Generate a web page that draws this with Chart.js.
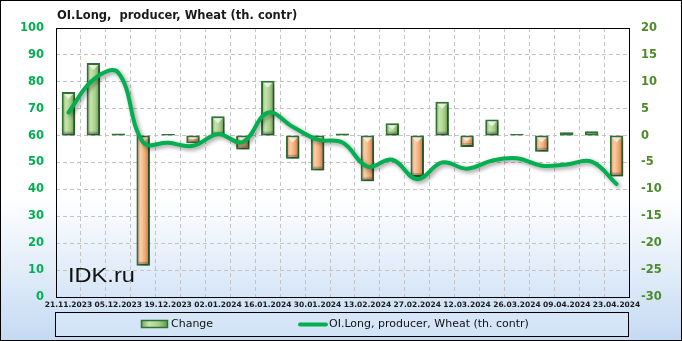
<!DOCTYPE html>
<html><head><meta charset="utf-8">
<style>html,body{margin:0;padding:0;background:#fff}#wrap{width:682px;height:341px}</style>
<script src="https://cdn.jsdelivr.net/npm/chart.js@4/dist/chart.umd.min.js"></script>
</head><body><div id="wrap"><canvas id="c" width="682" height="341"></canvas></div>
<script>
const titleText = 'OI.Long,  producer, Wheat (th. contr)';
const changeLabel = 'Change';
const lineLabel = 'OI.Long, producer, Wheat (th. contr)';
const watermark = 'IDK.ru';
const categories = ['21.11.2023','28.11.2023','05.12.2023','12.12.2023','19.12.2023','26.12.2023','02.01.2024','09.01.2024','16.01.2024','23.01.2024','30.01.2024','06.02.2024','13.02.2024','20.02.2024','27.02.2024','05.03.2024','12.03.2024','19.03.2024','26.03.2024','02.04.2024','09.04.2024','16.04.2024','23.04.2024'];
const changeValues = [8.1, 13.5, 0.4, -24.2, 0.3, -1.4, 3.6, -2.6, 10.2, -4.3, -6.5, 0.4, -8.5, 2.3, -7.7, 6.3, -2.1, 3.0, 0.3, -3.0, 0.6, 0.8, -7.6];
const oiLongValues = [68.6, 80.8, 83.4, 57.5, 57.3, 56.2, 60.5, 57.6, 68.5, 63.3, 58.5, 57.4, 48.5, 51.0, 43.8, 50.0, 47.7, 50.7, 51.6, 48.8, 49.3, 50.3, 42.0];
const leftTicks = {min: 0, max: 100, step: 10};
const rightTicks = {min: -30, max: 20, step: 5};

const LINE_COLOR = '#00b050';
const BAR_BORDER = '#2e7436';

function barGradient(ctx2d, cx, w, positive){
  if (!isFinite(cx)) return positive ? '#a9d08e' : '#f4ad7c';
  const g = ctx2d.createLinearGradient(cx - w/2, 0, cx + w/2, 0);
  if (positive){
    g.addColorStop(0, '#6ea755'); g.addColorStop(0.3, '#c8e4ae');
    g.addColorStop(0.65, '#a6cf87'); g.addColorStop(1, '#5f9547');
  } else {
    g.addColorStop(0, '#d98550'); g.addColorStop(0.3, '#fccfaa');
    g.addColorStop(0.65, '#f2a873'); g.addColorStop(1, '#bb6c3c');
  }
  return g;
}

const deco = {
  id: 'deco',
  beforeDraw(chart){
    const {ctx, width, height} = chart;
    const g = ctx.createLinearGradient(0, 0, 0, height);
    g.addColorStop(0, '#ffffff'); g.addColorStop(0.58, '#ffffff'); g.addColorStop(1, '#c4daf3');
    ctx.save(); ctx.fillStyle = g; ctx.fillRect(0, 0, width, height); ctx.restore();
  },
  beforeDatasetDraw(chart, args){
    const ctx = chart.ctx; ctx.save();
    ctx.shadowColor = 'rgba(0,0,0,0.4)';
    ctx.shadowBlur = 4; ctx.shadowOffsetX = 2; ctx.shadowOffsetY = 2;
  },
  afterDatasetDraw(chart, args){
    const ctx = chart.ctx; ctx.restore();
    if (args.meta.type === 'bar'){
      ctx.save();
      args.meta.data.forEach(el => {
        const {x, y, base, width} = el.getProps(['x','y','base','width'], true);
        const l = x - width/2, r = x + width/2;
        const top = Math.min(y, base), bot = Math.max(y, base);
        const h = bot - top;
        if (h > 6){
          ctx.fillStyle = 'rgba(255,255,255,0.65)';
          ctx.beginPath();
          ctx.moveTo(l + 2, top + 2); ctx.lineTo(r - 2, top + 2);
          ctx.lineTo(x, top + 2 + Math.min(5, h/3)); ctx.closePath(); ctx.fill();
          ctx.fillStyle = 'rgba(0,0,0,0.2)';
          ctx.fillRect(l + 2, bot - 4, width - 4, 2);
        }
      });
      ctx.restore();
    }
  },
  afterDraw(chart){
    const {ctx, chartArea: a, width, height} = chart;
    ctx.save();
    ctx.strokeStyle = '#000'; ctx.lineWidth = 1;
    ctx.strokeRect(Math.round(a.left) + 0.5, Math.round(a.top) + 0.5, Math.round(a.right - a.left), Math.round(a.bottom - a.top));
    ctx.fillStyle = '#1a1a1a'; ctx.font = "bold 11.5px 'DejaVu Sans'";
    ctx.textBaseline = 'middle'; ctx.textAlign = 'left';
    ctx.fillText(titleText, 57, 16);
    ctx.font = "20px 'Liberation Sans'"; ctx.textBaseline = 'alphabetic';
    ctx.fillStyle = '#111';
    ctx.save(); ctx.translate(68, 282); ctx.scale(1.18, 1); ctx.fillText(watermark, 0, 0); ctx.restore();
    ctx.strokeStyle = '#000'; ctx.lineWidth = 1;
    ctx.fillStyle = 'rgba(220,233,248,0.6)';
    ctx.fillRect(55.5, 312.5, 573, 24);
    ctx.strokeRect(55.5, 312.5, 573, 24);
    ctx.fillStyle = barGradient(ctx, 154.5, 27, true);
    ctx.fillRect(141, 320, 27, 8);
    ctx.strokeStyle = BAR_BORDER; ctx.lineWidth = 1.5;
    ctx.strokeRect(141.5, 320.5, 26, 7);
    ctx.fillStyle = '#111'; ctx.font = "11px 'DejaVu Sans'"; ctx.textBaseline = 'middle';
    ctx.fillText(changeLabel, 171, 324.5);
    ctx.strokeStyle = LINE_COLOR; ctx.lineWidth = 4; ctx.lineCap = 'round';
    ctx.beginPath(); ctx.moveTo(300, 324.5); ctx.lineTo(326, 324.5); ctx.stroke();
    ctx.fillText(lineLabel, 329, 324.5);
    ctx.lineWidth = 1; ctx.strokeStyle = '#000'; ctx.lineCap = 'butt';
    ctx.strokeRect(0.5, 0.5, width - 1, height - 1);
    ctx.restore();
  }
};

new Chart(document.getElementById('c'), {
  data: {
    labels: categories,
    datasets: [
      {
        type: 'bar', label: changeLabel, data: changeValues, yAxisID: 'y1', order: 1,
        barPercentage: 0.54, categoryPercentage: 1.0,
        borderColor: BAR_BORDER, borderWidth: 2, borderSkipped: false,
        backgroundColor: (c) => {
          const ch = c.chart; const xs = ch.scales && ch.scales.x;
          const pos = (c.raw ?? 0) >= 0;
          if (!xs || c.dataIndex === undefined) return pos ? '#a9d08e' : '#f4ad7c';
          const cx = xs.getPixelForValue(c.dataIndex);
          return barGradient(ch.ctx, cx, 13, pos);
        }
      },
      {
        type: 'line', label: lineLabel, data: oiLongValues, yAxisID: 'y', order: 0,
        borderColor: LINE_COLOR, borderWidth: 4, tension: 0.4, pointRadius: 0,
        fill: false, borderCapStyle: 'round', borderJoinStyle: 'round'
      }
    ]
  },
  options: {
    responsive: false, animation: false, devicePixelRatio: 1,
    layout: {padding: {top: 28, left: 0, right: 0, bottom: 0}},
    plugins: {legend: {display: false}, title: {display: false}, tooltip: {enabled: false}},
    scales: {
      x: {
        type: 'category', offset: true,
        grid: {display: true, offset: true, color: '#c4c4c4', drawTicks: false, lineWidth: 1},
        border: {display: false, dash: [4, 3]},
        ticks: {
          autoSkip: false, maxRotation: 0, minRotation: 0, padding: 4,
          color: '#1a1a1a', font: {family: 'DejaVu Sans', weight: 'bold', size: 7.5},
          callback: function(v, i){ return i % 2 === 0 ? this.getLabelForValue(v) : ''; }
        },
        afterFit(s){ s.height = 44; }
      },
      y: {
        position: 'left', min: leftTicks.min, max: leftTicks.max,
        grid: {display: true, color: '#c4c4c4', drawTicks: false},
        border: {display: false, dash: [4, 3]},
        ticks: {stepSize: leftTicks.step, padding: 12, color: '#00b050', font: {family: 'DejaVu Sans', weight: 'bold', size: 11.5}},
        afterFit(s){ s.width = 56; }
      },
      y1: {
        position: 'right', min: rightTicks.min, max: rightTicks.max,
        grid: {display: false, drawTicks: false},
        border: {display: false},
        ticks: {stepSize: rightTicks.step, padding: 12, color: '#4e8a2a', font: {family: 'DejaVu Sans', weight: 'bold', size: 11.5}},
        afterFit(s){ s.width = 53; }
      }
    }
  },
  plugins: [deco]
});
</script>
</body></html>
